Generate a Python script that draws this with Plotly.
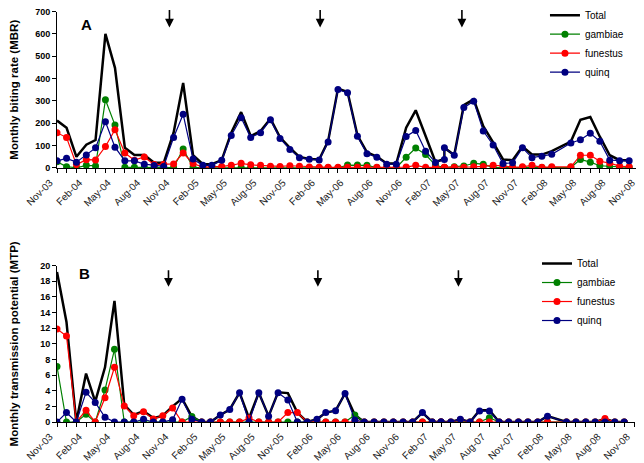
import plotly.graph_objects as go

# Monthly surveys, Nov-03 .. Oct-08 (Mar-07 surveyed twice, no data for Mar-08)
MONTHS = [
    "2003-11", "2003-12", "2004-01", "2004-02", "2004-03", "2004-04", "2004-05", "2004-06",
    "2004-07", "2004-08", "2004-09", "2004-10", "2004-11", "2004-12", "2005-01", "2005-02",
    "2005-03", "2005-04", "2005-05", "2005-06", "2005-07", "2005-08", "2005-09", "2005-10",
    "2005-11", "2005-12", "2006-01", "2006-02", "2006-03", "2006-04", "2006-05", "2006-06",
    "2006-07", "2006-08", "2006-09", "2006-10", "2006-11", "2006-12", "2007-01", "2007-02",
    "2007-03", "2007-03", "2007-04", "2007-05", "2007-06", "2007-07", "2007-08", "2007-09",
    "2007-10", "2007-11", "2007-12", "2008-01", "2008-02", "2008-04", "2008-05", "2008-06",
    "2008-07", "2008-08", "2008-09", "2008-10",
]

# Panel A - monthly biting rate
MBR_TOTAL = [212, 180, 50, 104, 125, 600, 448, 90, 58, 58, 23, 23, 158, 380, 57, 17,
             17, 35, 158, 250, 143, 165, 220, 137, 90, 49, 40, 38, 120, 355, 340, 146,
             70, 51, 20, 20, 180, 258, 143, 27, 40, 90, 58, 281, 307, 187, 115, 38,
             35, 96, 60, 60, 75, 118, 216, 228, 140, 57, 35, 35]
MBR_GAMBIAE = [28, 6, 1, 12, 9, 305, 192, 3, 3, 2, 2, 2, 2, 85, 3, 1,
               1, 1, 1, 2, 2, 2, 2, 1, 1, 1, 1, 1, 1, 1, 13, 13,
               12, 2, 1, 1, 48, 89, 60, 12, 2, 2, 5, 9, 21, 17, 2, 2,
               2, 2, 2, 2, 2, 3, 38, 26, 10, 8, 3, 3]
MBR_FUNESTUS = [158, 136, 15, 37, 36, 96, 171, 67, 35, 49, 15, 17, 18, 67, 20, 4,
                4, 7, 12, 21, 14, 12, 8, 7, 10, 8, 4, 3, 3, 3, 3, 3,
                3, 3, 3, 3, 4, 12, 3, 3, 3, 3, 3, 3, 5, 7, 12, 9,
                3, 5, 12, 3, 5, 5, 57, 57, 30, 22, 8, 5]
MBR_QUINQ = [32, 43, 26, 58, 90, 207, 93, 32, 32, 17, 11, 7, 136, 240, 40, 12,
             12, 35, 145, 225, 136, 158, 216, 132, 83, 46, 39, 36, 116, 351, 336, 142,
             64, 48, 17, 17, 141, 168, 75, 25, 38, 90, 57, 270, 299, 165, 103, 20,
             23, 90, 46, 52, 61, 112, 126, 155, 119, 35, 32, 32]

# Panel B - monthly transmission potential
MTP_TOTAL = [19.2, 12.8, 0, 6.2, 2.6, 7.0, 15.5, 2.2, 0.9, 1.4, 0.5, 0.8, 2.0, 3.0, 0.7, 0,
             0, 0.9, 1.6, 3.75, 0.5, 3.75, 0.75, 3.8, 3.7, 1.2, 0, 0.35, 1.2, 1.45, 3.65, 0.9,
             0, 0, 0, 0, 0, 0, 1.2, 0, 0, 0, 0, 0.35, 0, 1.5, 1.5, 0,
             0, 0, 0, 0, 0.75, 0, 0, 0, 0, 0.4, 0, 0]
MTP_GAMBIAE = [7.1, 0, 0, 1.0, 0, 4.1, 9.3, 0, 0, 0, 0, 0, 0, 0, 0.7, 0,
               0, 0, 0, 0, 0, 0, 0, 0, 0, 0, 0, 0, 0, 0, 0, 0.9,
               0, 0, 0, 0, 0, 0, 0, 0, 0, 0, 0, 0, 0, 0, 0.55, 0,
               0, 0, 0, 0, 0, 0, 0, 0, 0, 0, 0, 0]
MTP_FUNESTUS = [11.9, 11.0, 0, 1.5, 0, 3.1, 7.0, 2.05, 0.8, 1.3, 0.4, 0.8, 1.8, 0, 0, 0,
                0, 0, 0, 0, 0.5, 0, 0, 0, 1.2, 1.2, 0, 0, 0, 0, 0, 0,
                0, 0, 0, 0, 0, 0, 0, 0, 0, 0, 0, 0.3, 0, 0, 0, 0,
                0, 0, 0, 0, 0, 0, 0, 0, 0, 0.45, 0, 0]
MTP_QUINQ = [0, 1.2, 0, 3.8, 2.5, 0.6, 0, 0, 0, 0.35, 0, 0, 0.3, 2.9, 0.35, 0,
             0, 0.9, 1.6, 3.75, 0, 3.75, 0.75, 3.75, 2.8, 0, 0, 0.35, 1.2, 1.45, 3.65, 0.25,
             0, 0, 0, 0, 0, 0, 1.2, 0, 0, 0, 0, 0.35, 0, 1.4, 1.4, 0,
             0, 0, 0, 0, 0.75, 0, 0, 0, 0, 0, 0, 0]

# Intervention times marked with arrows
ARROW_DATES = ["2004-10-19", "2006-02-04", "2007-04-25"]

SERIES = [
    ("Total", "#000000"),
    ("gambiae", "#008000"),
    ("funestus", "#FF0000"),
    ("quinq", "#000080"),
]

FONT = "Arial, Liberation Sans, sans-serif"

# page has an 8px body margin, so the figure is drawn 8px smaller
W, H = 636, 455

fig = go.Figure()

panels = [
    ("x", "y", "legend", [MBR_TOTAL, MBR_GAMBIAE, MBR_FUNESTUS, MBR_QUINQ]),
    ("x2", "y2", "legend2", [MTP_TOTAL, MTP_GAMBIAE, MTP_FUNESTUS, MTP_QUINQ]),
]

for xa, ya, leg, values in panels:
    for (name, color), vals in zip(SERIES, values):
        if name == "Total":
            fig.add_trace(go.Scatter(
                x=MONTHS, y=vals, name=name, mode="lines",
                line=dict(color=color, width=2.5),
                xaxis=xa, yaxis=ya, legend=leg,
            ))
        else:
            fig.add_trace(go.Scatter(
                x=MONTHS, y=vals, name=name, mode="lines+markers",
                line=dict(color=color, width=1.2),
                marker=dict(color=color, size=7, line=dict(width=0)),
                xaxis=xa, yaxis=ya, legend=leg,
            ))

# Arrows
for xr, yr, ytip, ay in [("x", "y", 628, -19), ("x2", "y2", 17.3, -18)]:
    for d in ARROW_DATES:
        fig.add_annotation(
            x=d, y=ytip, xref=xr, yref=yr, text="", showarrow=True,
            arrowhead=2, arrowsize=1.1, arrowwidth=1.6, arrowcolor="black",
            ax=0, ay=ay,
        )

# Panel letters
fig.add_annotation(x=0.0377, y=0.9868, xref="paper", yref="paper", text="A",
                   showarrow=False, font=dict(family=FONT, size=15, color="black", weight="bold"))
fig.add_annotation(x=0.0343, y=0.4154, xref="paper", yref="paper", text="B",
                   showarrow=False, font=dict(family=FONT, size=15, color="black", weight="bold"))

xaxis_common = dict(
    type="date",
    range=["2003-11-01", "2008-11-04"],
    tick0="2003-11-01", dtick="M3", tickformat="%b-%y",
    tickangle=-45, ticklabelshift=-7, ticklabeloverflow="allow",
    ticks="outside", ticklen=4, tickcolor="black",
    minor=dict(tick0="2003-11-01", dtick="M1", ticks="outside", ticklen=4, tickcolor="black"),
    showline=True, linecolor="black", linewidth=1,
    showgrid=False, zeroline=False, automargin=False,
    tickfont=dict(family=FONT, size=10, color="#222222"),
)
yaxis_common = dict(
    ticks="outside", ticklen=4, tickcolor="black", ticklabeloverflow="allow",
    showline=True, linecolor="black", linewidth=1,
    showgrid=False, zeroline=False, automargin=False,
    tickfont=dict(family=FONT, size=9, color="black", weight="bold"),
)

fig.update_layout(
    width=W, height=H,
    margin=dict(l=49, r=4, t=0, b=0, autoexpand=False),
    paper_bgcolor="white", plot_bgcolor="white",
    font=dict(family=FONT, color="black"),
    xaxis=dict(domain=[0, 1], anchor="y", **xaxis_common),
    yaxis=dict(domain=[0.6484, 0.9923], anchor="x", range=[0, 700], dtick=100,
               title=dict(text="Monthly biting rate (MBR)", standoff=21,
                          font=dict(family=FONT, size=11.5, weight="bold")),
               **yaxis_common),
    xaxis2=dict(domain=[0, 0.9914], anchor="y2", **xaxis_common),
    yaxis2=dict(domain=[0.0901, 0.4336], anchor="x2", range=[0, 20], dtick=2,
                title=dict(text="Monthly transmission potential (MTP)", standoff=26,
                           font=dict(family=FONT, size=11.5, weight="bold")),
                **yaxis_common),
    legend=dict(x=0.837, y=1.016, xanchor="left", yanchor="top",
                bgcolor="rgba(0,0,0,0)", font=dict(family=FONT, size=10, color="black")),
    legend2=dict(x=0.8233, y=0.4703, xanchor="left", yanchor="top",
                 bgcolor="rgba(0,0,0,0)", font=dict(family=FONT, size=10, color="black")),
    showlegend=True,
)

fig.write_html("out.html")
